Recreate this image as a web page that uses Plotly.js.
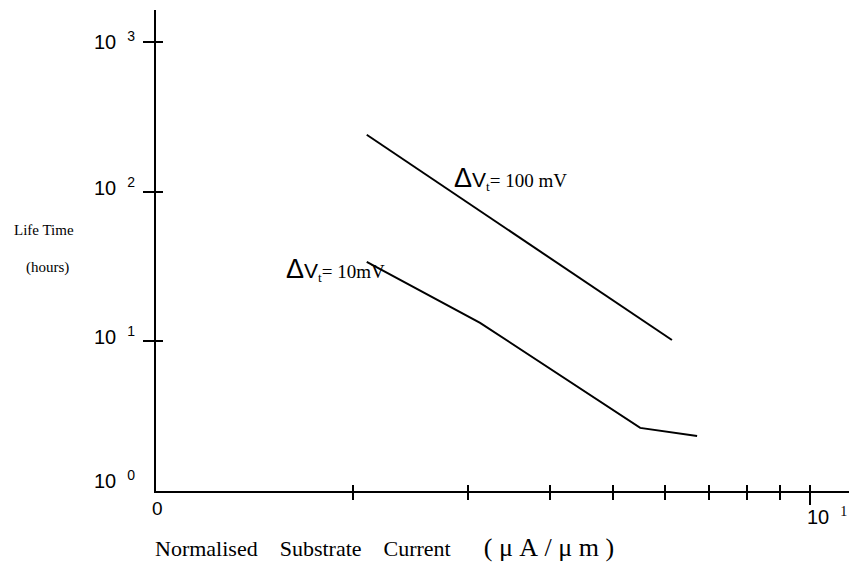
<!DOCTYPE html>
<html>
<head>
<meta charset="utf-8">
<script src="https://cdn.plot.ly/plotly-3.0.1.min.js"></script>
<style>html,body{margin:0;padding:0;background:#fff;}#chart{width:861px;height:566px;}</style>
</head>
<body>
<div id="chart"></div>
<script>
// Data (log-log)
const series100Name = "ΔVt = 100 mV";
const series100X = [2.1, 6.15];
const series100Y = [240, 10.2];

const series10Name = "ΔVt = 10 mV";
const series10X = [2.1, 3.13, 5.5, 6.72];
const series10Y = [34, 13.3, 2.64, 2.33];

const xMinorTicks = [2, 3, 4, 5, 6, 7, 8, 9];
const xMajorTicks = [10];
const yTicks = [10, 100, 1000];
const yTickExps = ["0", "1", "2", "3"];
const xTickLabels = ["0", "10"];
const xTickSup = ["", "1"];

const sp = "\u00a0\u00a0\u00a0\u00a0";
const th = "\u2005";
const xTitle = "Normalised" + sp + "Substrate" + sp + "Current" + sp + "\u00a0\u00a0" +
  '<span style="font-size:26px">(' + th + "μ" + th + "A" + th + "/" + th + "μ" + th + "m" + th + ")</span>";
const yTitle1 = "Life Time";
const yTitle2 = "(hours)";

const W = 861, H = 566;
const L = 156, R = 849, T = 10, B = 491;
const px = v => (v - L) / (R - L);
const py = v => (B - v) / (B - T);

const xRange = [0, (R - L) / 654];
const yRange = [0, (B - T) / 149.67];

const lineStyle = {color: '#000', width: 2};
const traces = [
  {x: series100X, y: series100Y, type: 'scatter', mode: 'lines', line: lineStyle, name: series100Name, xaxis: 'x', yaxis: 'y'},
  {x: series10X, y: series10Y, type: 'scatter', mode: 'lines', line: lineStyle, name: series10Name, xaxis: 'x', yaxis: 'y'},
  {x: [], y: [], type: 'scatter', mode: 'lines', xaxis: 'x2', yaxis: 'y2', showlegend: false, hoverinfo: 'skip'}
];

const sansFont = {family: 'Liberation Sans, Arial, sans-serif', size: 20, color: '#000'};
const serifFont = {family: 'Liberation Serif, Times New Roman, serif', size: 15, color: '#000'};
const labelFont = {family: 'Liberation Serif, Times New Roman, serif', size: 19, color: '#000'};

const annotations = [];
// y tick labels
const yLabelPix = [483, 340, 191, 45];
yTickExps.forEach((e, i) => {
  annotations.push({
    xref: 'paper', yref: 'paper', x: px(137), y: py(yLabelPix[i]),
    xanchor: 'right', yanchor: 'middle', yshift: 4,
    text: '10\u00a0\u00a0<sup>' + e + '</sup>', showarrow: false, font: sansFont
  });
});
// x tick labels
annotations.push({xref: 'paper', yref: 'paper', x: px(157), y: py(508), xanchor: 'center', yanchor: 'middle',
  text: xTickLabels[0], showarrow: false, font: {family: sansFont.family, size: 19, color: '#000'}});
annotations.push({xref: 'paper', yref: 'paper', x: px(805), y: py(520), xanchor: 'left', yanchor: 'middle', yshift: 4,
  text: xTickLabels[1] + '\u00a0\u00a0<sup><span style="font-family:Liberation Serif">' + xTickSup[1] + '</span></sup>', showarrow: false,
  font: {family: sansFont.family, size: 20, color: '#000'}});
// axis titles
annotations.push({xref: 'paper', yref: 'paper', x: px(153), y: py(547), xanchor: 'left', yanchor: 'middle',
  text: xTitle, showarrow: false, font: {family: 'Liberation Serif, Times New Roman, serif', size: 22, color: '#000'}});
annotations.push({xref: 'paper', yref: 'paper', x: px(44), y: py(230), xanchor: 'center', yanchor: 'middle',
  text: yTitle1, showarrow: false, font: serifFont});
annotations.push({xref: 'paper', yref: 'paper', x: px(47), y: py(267), xanchor: 'center', yanchor: 'middle',
  text: yTitle2, showarrow: false, font: serifFont});
// series labels
const deltaV = '<span style="font-family:Liberation Sans;font-size:27px">Δ</span><span style="font-family:Liberation Sans;font-size:21px">V</span><sub>t</sub>=';
annotations.push({xref: 'paper', yref: 'paper', x: px(452), y: py(179), xanchor: 'left', yanchor: 'middle',
  text: deltaV + ' 100 mV', showarrow: false, font: labelFont});
annotations.push({xref: 'paper', yref: 'paper', x: px(284), y: py(269), xanchor: 'left', yanchor: 'middle',
  text: deltaV + ' 10mV', showarrow: false, font: labelFont});

const layout = {
  width: W, height: H,
  margin: {l: L, r: W - R, t: T, b: H - B, pad: 0},
  paper_bgcolor: '#fff', plot_bgcolor: '#fff',
  showlegend: false,
  xaxis: {
    type: 'log', range: xRange, showgrid: false, zeroline: false,
    showline: true, linecolor: '#000', linewidth: 2,
    tickmode: 'array', tickvals: xMajorTicks, ticks: 'outside', ticklen: 12, tickwidth: 2, tickcolor: '#000',
    showticklabels: false,
    minor: {tickmode: 'array', tickvals: xMinorTicks, ticks: 'outside', ticklen: 7, tickwidth: 2, tickcolor: '#000', showgrid: false}
  },
  xaxis2: {
    type: 'log', range: xRange, overlaying: 'x', anchor: 'y2', side: 'bottom',
    showgrid: false, zeroline: false, showline: false,
    tickmode: 'array', tickvals: xMinorTicks.concat(xMajorTicks), ticks: 'inside', ticklen: 6, tickwidth: 2, tickcolor: '#000',
    showticklabels: false
  },
  yaxis: {
    type: 'log', range: yRange, showgrid: false, zeroline: false,
    showline: true, linecolor: '#000', linewidth: 2,
    tickmode: 'array', tickvals: yTicks, ticks: 'outside', ticklen: 11, tickwidth: 2, tickcolor: '#000',
    showticklabels: false
  },
  yaxis2: {
    type: 'log', range: yRange, overlaying: 'y', anchor: 'x2', side: 'left',
    showgrid: false, zeroline: false, showline: false,
    tickmode: 'array', tickvals: yTicks, ticks: 'inside', ticklen: 7, tickwidth: 2, tickcolor: '#000',
    showticklabels: false
  },
  annotations: annotations
};

Plotly.newPlot('chart', traces, layout, {staticPlot: true, displayModeBar: false});
</script>
</body>
</html>
